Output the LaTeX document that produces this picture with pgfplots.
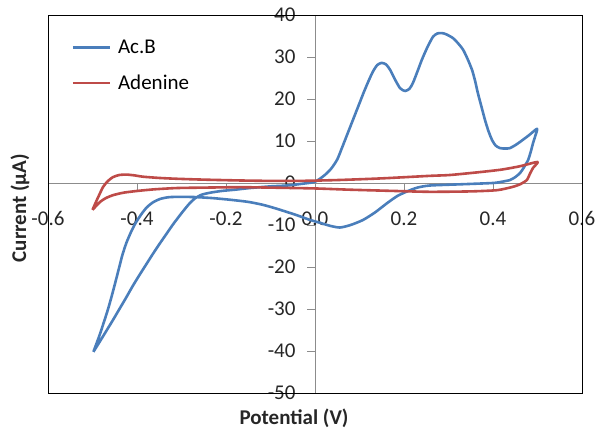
\documentclass[border=0pt]{standalone}
\usepackage{fontspec}
\setmainfont{Carlito}
\usepackage{pgfplots}
\pgfplotsset{compat=1.18}
\definecolor{acb}{HTML}{4A7EBB}
\definecolor{ade}{HTML}{BE4B48}
\definecolor{axgray}{HTML}{8C8C8C}
\newcommand{\lblfont}{\fontsize{21}{24}\selectfont}

\begin{document}
\begin{tikzpicture}
\begin{axis}[
    name=ax,
    at={(0pt,0pt)}, anchor=south west,
    scale only axis,
    width=534pt, height=378pt,
    xmin=-0.6, xmax=0.6,
    ymin=-50, ymax=40,
    axis lines*=middle,
    axis line style={axgray, line width=0.9pt},
    xtick={-0.6,-0.4,-0.2,0,0.2,0.4,0.6},
    ytick={-50,-40,-30,-20,-10,0,10,20,30,40},
    tick style={axgray, line width=0.9pt},
    tick align=outside,
    major tick length=8pt,
    hide obscured x ticks=false,
    hide obscured y ticks=false,
    /pgf/number format/assume math mode=true,
    x tick label style={/pgf/number format/fixed, /pgf/number format/fixed zerofill, /pgf/number format/precision=1, yshift=-17pt},
    y tick label style={xshift=-8pt},
    tick label style={font=\lblfont, text=black!85},
    clip=false,
    legend style={draw=none, fill=none, font=\lblfont, at={(rel axis cs:0.038,0.945)}, anchor=north west, row sep=16pt},
    legend cell align=left,
    legend image code/.code={\draw[#1] (0pt,0pt) -- (37pt,0pt); \path (42pt,0pt);},
]
\draw[black, line width=0.9pt] (rel axis cs:0,0) rectangle (rel axis cs:1,1);
\coordinate (sw) at (rel axis cs:0,0);
\coordinate (ne) at (rel axis cs:1,1);

% Ac.B
\addplot[acb, line width=2.6pt, line join=round, smooth, tension=0.4] coordinates {
(-0.498,-40.2) (-0.485,-38.0) (-0.47,-35.4) (-0.455,-32.8) (-0.44,-30.1)
(-0.425,-27.4) (-0.41,-24.6) (-0.395,-22.0) (-0.38,-19.5) (-0.365,-17.0)
(-0.35,-14.6) (-0.335,-12.3) (-0.32,-10.0) (-0.308,-8.3) (-0.297,-6.8)
(-0.283,-5.0) (-0.27,-3.7) (-0.255,-2.8) (-0.235,-2.3) (-0.21,-1.9)
(-0.18,-1.6) (-0.146,-1.2) (-0.1,-0.8) (-0.063,-0.6) (-0.03,-0.2) (0,0.3)
(0.022,1.9) (0.037,3.5) (0.05,5.6) (0.06,8.2) (0.07,10.9) (0.08,13.6)
(0.09,16.3) (0.1,19.0) (0.11,21.7) (0.12,24.2) (0.13,26.5) (0.14,28.1)
(0.15,28.6) (0.16,28.2) (0.169,26.9) (0.18,24.6) (0.191,22.6) (0.202,21.9)
(0.212,22.4) (0.22,23.8) (0.23,26.5) (0.24,29.3) (0.252,32.2) (0.265,34.8)
(0.275,35.6) (0.285,35.7) (0.295,35.4) (0.31,34.5) (0.322,33.2) (0.333,31.7)
(0.343,29.5) (0.353,26.9) (0.36,24.2) (0.366,21.4) (0.374,18.2) (0.382,15)
(0.39,12.3) (0.398,10.2) (0.406,8.9) (0.416,8.3) (0.428,8.2) (0.438,8.3)
(0.45,9) (0.461,9.8) (0.48,11.3) (0.499,12.9)
(0.495,11.2) (0.49,9.5) (0.485,7.5) (0.479,5.5) (0.47,3.8) (0.461,2.4)
(0.45,1.4) (0.438,0.7) (0.42,0.3) (0.4,0) (0.33,-0.3) (0.258,-0.6) (0.23,-1.1)
(0.207,-2) (0.185,-3.1) (0.162,-4.8) (0.135,-7) (0.108,-8.8) (0.08,-10)
(0.056,-10.6) (0.034,-10.2) (0.012,-9.5) (-0.011,-8.8) (-0.04,-7.7) (-0.063,-6.9)
(-0.09,-6) (-0.117,-5.2) (-0.15,-4.5) (-0.19,-4) (-0.23,-3.6) (-0.27,-3.35)
(-0.31,-3.3) (-0.33,-3.4) (-0.348,-3.8) (-0.364,-4.6) (-0.378,-5.8) (-0.39,-7.4)
(-0.403,-9.5) (-0.414,-11.8) (-0.424,-14.3) (-0.433,-17.2) (-0.441,-20.5)
(-0.449,-23.8) (-0.457,-27) (-0.465,-30) (-0.474,-33) (-0.485,-36.5) (-0.498,-40.2)
};
\addlegendentry{Ac.B}

% Adenine
\addplot[ade, line width=2.6pt, line join=round, smooth, tension=0.4] coordinates {
(-0.5,-6.4) (-0.49,-4) (-0.476,-0.9) (-0.465,0.5) (-0.454,1.4) (-0.44,1.9)
(-0.423,2) (-0.405,1.8) (-0.387,1.5) (-0.35,1.2) (-0.31,1) (-0.25,0.8)
(-0.168,0.6) (-0.1,0.5) (-0.034,0.5) (0.05,0.7) (0.15,1.1) (0.258,1.7)
(0.303,1.9) (0.371,2.6) (0.42,3.2) (0.461,4) (0.5,5)
(0.49,3.6) (0.483,2.2) (0.476,0.7) (0.461,-0.3) (0.445,-0.9) (0.41,-1.7)
(0.35,-2) (0.258,-2.1) (0.18,-1.9) (0.079,-1.6) (0,-1.3) (-0.1,-1.1)
(-0.168,-1) (-0.25,-1.1) (-0.31,-1.2) (-0.36,-1.5) (-0.4,-1.9) (-0.43,-2.3)
(-0.454,-2.9) (-0.47,-3.6) (-0.483,-4.5) (-0.5,-6.4)
};
\addlegendentry{Adenine}

\node[font=\bfseries\lblfont, text=black!85] at (rel axis cs:0.4607,-0.0661) {Potential (V)};
\node[font=\bfseries\lblfont, text=black!85, rotate=90] at (rel axis cs:-0.0524,0.489) {Current (µA)};
\end{axis}
\pgfresetboundingbox
\path ([shift={(-48pt,-37pt)}]sw) rectangle ([shift={(15pt,15pt)}]ne);
\end{tikzpicture}
\end{document}
